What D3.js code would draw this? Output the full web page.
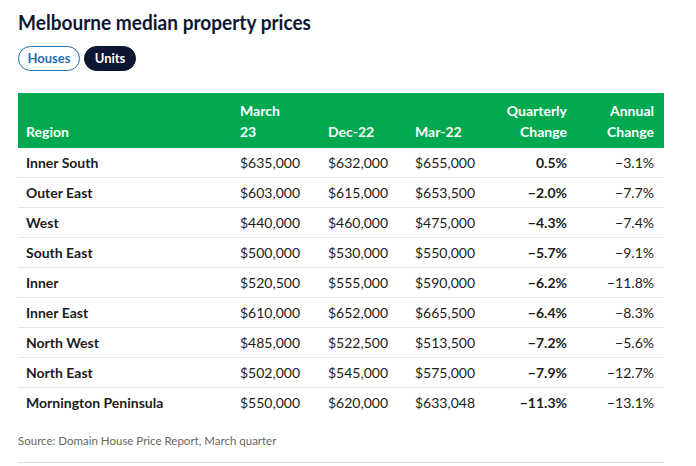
<!DOCTYPE html>
<html><head><meta charset="utf-8">
<script src="https://cdn.jsdelivr.net/npm/d3@7"></script>
<style>
body{margin:0;background:#fff;}
svg{display:block;}
</style></head>
<body>
<script>
const title = "Melbourne median property prices";
const buttons = ["Houses","Units"];
const headers = [["Region"],["March","23"],["Dec-22"],["Mar-22"],["Quarterly","Change"],["Annual","Change"]];
const regions = ["Inner South","Outer East","West","South East","Inner","Inner East","North West","North East","Mornington Peninsula"];
const march23 = [635000,603000,440000,500000,520500,610000,485000,502000,550000];
const dec22 = [632000,615000,460000,530000,555000,652000,522500,545000,620000];
const mar22 = [655000,653500,475000,550000,590000,665500,513500,575000,633048];
const quarterly = [0.5,-2.0,-4.3,-5.7,-6.2,-6.4,-7.2,-7.9,-11.3];
const annual = [-3.1,-7.7,-7.4,-9.1,-11.8,-8.3,-5.6,-12.7,-13.1];
const source = "Source: Domain House Price Report, March quarter";

const W=696,H=466;
const FONT="Lato, 'Noto Sans', sans-serif";
const svg=d3.select("body").append("svg").attr("width",W).attr("height",H);

svg.append("text").attr("x",18).attr("y",30).attr("font-family",FONT)
  .attr("font-weight",700).attr("font-size",20.5).attr("fill","#0d1633")
  .attr("textLength",293).attr("lengthAdjust","spacingAndGlyphs").text(title);

// buttons
const btn=[{x:18,w:61,active:false},{x:84,w:51,active:true}];
btn.forEach((b,i)=>{
  svg.append("rect").attr("x",b.x+0.5).attr("y",46.5).attr("width",b.w).attr("height",24).attr("rx",12)
    .attr("fill",b.active?"#0d1633":"#fff").attr("stroke",b.active?"#0d1633":"#1f6fb3").attr("stroke-width",1);
  svg.append("text").attr("x",b.x+b.w/2+0.5).attr("y",63).attr("text-anchor","middle")
    .attr("font-family",FONT).attr("font-weight",700).attr("font-size",13)
    .attr("fill",b.active?"#fff":"#1f6fb3").text(buttons[i]);
});

const fmt=d3.format("$,");
const pct=v=>(v<0?"\u2212":"")+Math.abs(v).toFixed(1)+"%";

const x0=18,x1=664;
const cols=[{x:26,anchor:"start"},{x:240,anchor:"start"},{x:328,anchor:"start"},{x:415,anchor:"start"},{x:567,anchor:"end"},{x:654,anchor:"end"}];

// header
svg.append("rect").attr("x",x0).attr("y",93).attr("width",x1-x0).attr("height",55).attr("fill","#00a94f");
headers.forEach((h,i)=>{
  h.forEach((line,j)=>{
    svg.append("text").attr("x",cols[i].x).attr("y",137-(h.length-1-j)*21)
      .attr("text-anchor",cols[i].anchor).attr("font-family",FONT).attr("font-weight",700)
      .attr("font-size",14).attr("fill","#fff").text(line);
  });
});

const y=d3.scaleBand().domain(regions).range([148,148+30*regions.length]);
const rows=svg.selectAll("g.row").data(regions.map((r,i)=>({r,i}))).join("g").attr("class","row")
  .attr("transform",d=>`translate(0,${y(d.r)})`);
rows.filter(d=>d.i<regions.length-1).append("line").attr("x1",x0).attr("x2",x1)
  .attr("y1",y.bandwidth()-0.5).attr("y2",y.bandwidth()-0.5).attr("stroke","#e6e6e6");
const cell=(sel,i,txt,bold)=>sel.append("text").attr("x",cols[i].x).attr("y",20)
  .attr("text-anchor",cols[i].anchor).attr("font-family",FONT).attr("font-size",14)
  .attr("font-weight",bold?700:400).attr("fill","#1c1c1c").text(txt);
cell(rows,0,d=>d.r,true);
cell(rows,1,d=>fmt(march23[d.i]),false);
cell(rows,2,d=>fmt(dec22[d.i]),false);
cell(rows,3,d=>fmt(mar22[d.i]),false);
cell(rows,4,d=>pct(quarterly[d.i]),true);
cell(rows,5,d=>pct(annual[d.i]),false);

svg.append("text").attr("x",18).attr("y",445).attr("font-family",FONT).attr("font-size",11.5)
  .attr("fill","#666").text(source);
svg.append("line").attr("x1",x0).attr("x2",x1).attr("y1",462.5).attr("y2",462.5).attr("stroke","#ddd");
</script>
</body></html>
